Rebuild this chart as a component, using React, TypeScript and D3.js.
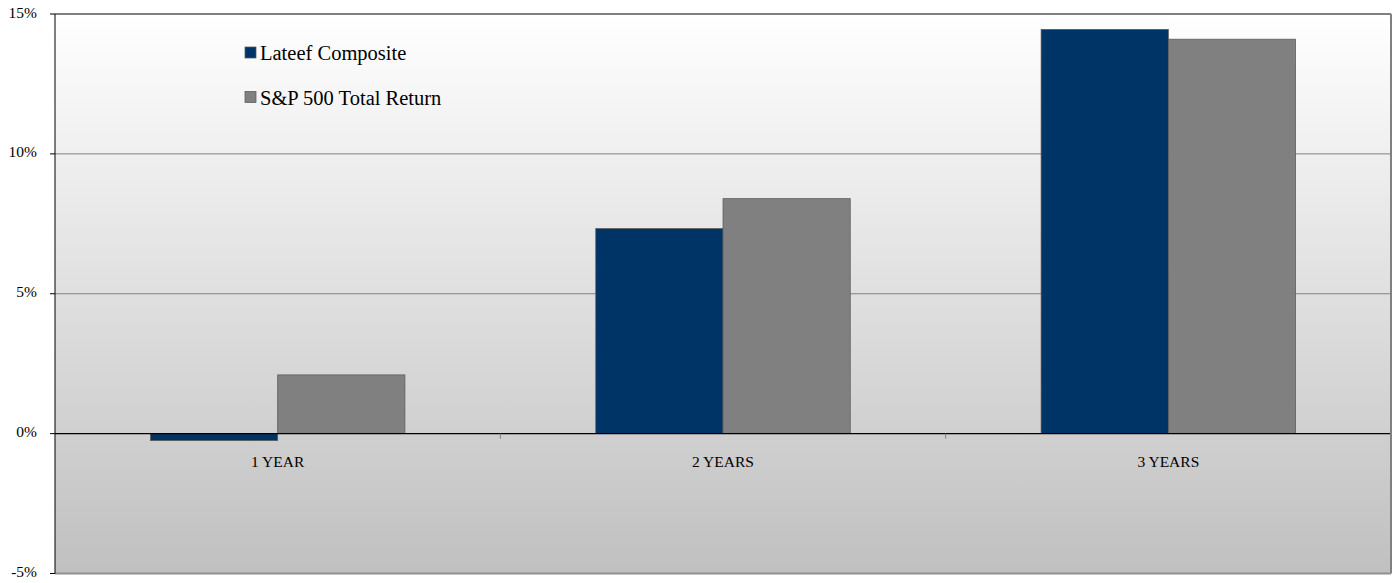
import React from "react";
import * as d3 from "d3";

const categories = ["1 YEAR", "2 YEARS", "3 YEARS"];
const seriesNames = ["Lateef Composite", "S&P 500 Total Return"];
const lateef = [-0.25, 7.33, 14.45];
const sp500 = [2.1, 8.4, 14.1];
const yTicks = [-5, 0, 5, 10, 15];
const colors = ["#003366", "#808080"];

const W = 1397;
const H = 583;
const plot = { left: 55, right: 1391, top: 14, bottom: 573.5 };

export default function App() {
  const x = d3
    .scaleBand<string>()
    .domain(categories)
    .range([plot.left, plot.right])
    .paddingInner(0)
    .paddingOuter(0);
  const y = d3.scaleLinear().domain([-5, 15]).range([plot.bottom, plot.top]);
  const band = x.bandwidth();
  const barW = band / 3.5;
  const series = [lateef, sp500];
  const font = "'Liberation Serif', 'Times New Roman', serif";

  return (
    <svg
      width={W}
      height={H}
      style={{ position: "absolute", left: 0, top: 0, background: "#fff" }}
    >
      <defs>
        <linearGradient id="bg" x1="0" y1="0" x2="0" y2="1">
          <stop offset="0" stopColor="#ffffff" />
          <stop offset="1" stopColor="#c0c0c0" />
        </linearGradient>
      </defs>
      <rect
        x={plot.left}
        y={plot.top}
        width={plot.right - plot.left}
        height={plot.bottom - plot.top}
        fill="url(#bg)"
      />
      {yTicks
        .filter((t) => t !== 0 && t !== -5 && t !== 15)
        .map((t) => (
          <line
            key={"g" + t}
            x1={plot.left}
            x2={plot.right}
            y1={y(t)}
            y2={y(t)}
            stroke="#808080"
            strokeWidth={1}
          />
        ))}
      {categories.map((c, i) =>
        series.map((s, k) => {
          const v = s[i];
          const bx = (x(c) as number) + band / 2 - barW + k * barW;
          const y0 = y(0);
          const y1 = y(v);
          return (
            <rect
              key={c + k}
              x={bx}
              y={Math.min(y0, y1)}
              width={barW}
              height={Math.abs(y1 - y0)}
              fill={colors[k]}
              stroke="#5a5a5a"
              strokeWidth={0.75}
            />
          );
        })
      )}
      <line
        x1={plot.left}
        x2={plot.right}
        y1={y(0)}
        y2={y(0)}
        stroke="#000"
        strokeWidth={1.2}
      />
      {categories.slice(1).map((c) => (
        <line
          key={"ct" + c}
          x1={x(c)}
          x2={x(c)}
          y1={y(0)}
          y2={y(0) + 5}
          stroke="#808080"
          strokeWidth={1}
        />
      ))}
      <line x1={plot.left} x2={plot.right} y1={plot.top} y2={plot.top} stroke="#808080" strokeWidth={2} />
      <line x1={plot.right} x2={plot.right} y1={plot.top} y2={plot.bottom} stroke="#808080" strokeWidth={2} />
      <line x1={plot.left} x2={plot.right} y1={plot.bottom} y2={plot.bottom} stroke="#909090" strokeWidth={2} />
      <line x1={plot.left} x2={plot.left} y1={plot.top} y2={plot.bottom} stroke="#000" strokeWidth={1} />
      {yTicks.map((t) => (
        <g key={"yt" + t}>
          <line x1={plot.left - 5} x2={plot.left} y1={y(t)} y2={y(t)} stroke="#000" strokeWidth={1} />
          <text
            x={37}
            y={y(t)}
            textAnchor="end"
            dominantBaseline="middle"
            fontFamily={font}
            fontSize={15.5}
            fill="#000"
          >
            {t + "%"}
          </text>
        </g>
      ))}
      {categories.map((c) => (
        <text
          key={"cl" + c}
          x={(x(c) as number) + band / 2}
          y={467}
          textAnchor="middle"
          fontFamily={font}
          fontSize={15.5}
          fill="#000"
        >
          {c}
        </text>
      ))}
      {seriesNames.map((n, k) => (
        <g key={"lg" + n} transform={`translate(245, ${47 + k * 44.5})`}>
          <rect x={0} y={0} width={11} height={11} fill={colors[k]} stroke="#5a5a5a" strokeWidth={0.75} />
          <text x={15} y={13} fontFamily={font} fontSize={20.5} fill="#000">
            {n}
          </text>
        </g>
      ))}
    </svg>
  );
}
